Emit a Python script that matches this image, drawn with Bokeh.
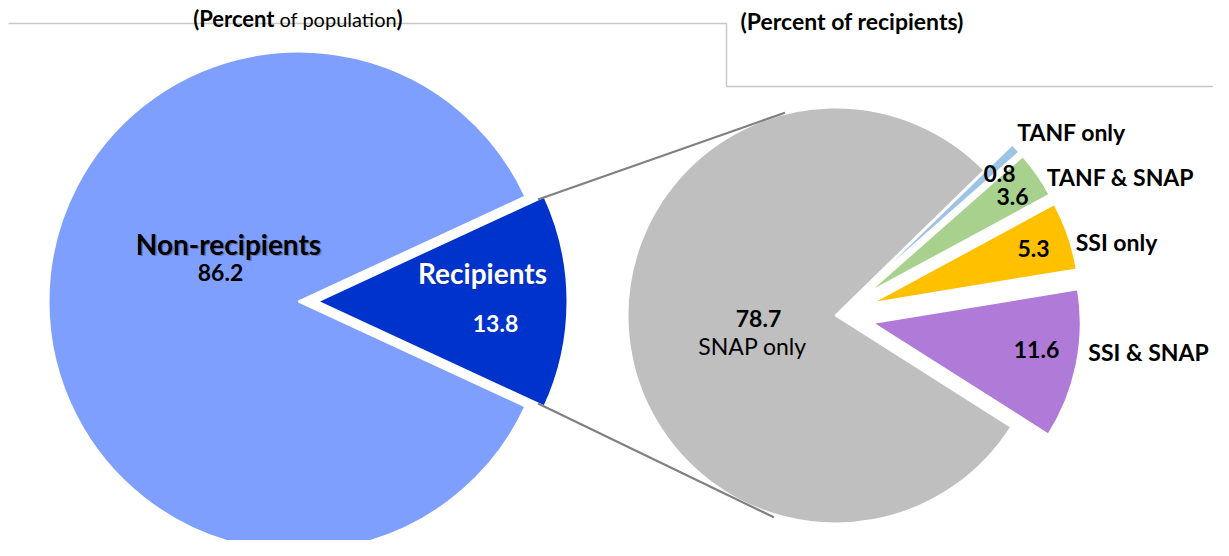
import math
from bokeh.plotting import figure
from bokeh.models import Range1d, ColumnDataSource
from bokeh.core.properties import value
from bokeh.embed import file_html
from bokeh.resources import INLINE

# ---------------- data ----------------
left_labels = ["Non-recipients", "Recipients"]
left_values = [86.2, 13.8]
left_colors = ["#7F9FFF", "#0033CC"]

right_labels = ["SNAP only", "TANF only", "TANF & SNAP", "SSI only", "SSI & SNAP"]
right_values = [78.7, 0.8, 3.6, 5.3, 11.6]
right_colors = ["#BFBFBF", "#9DC3E6", "#A9D18E", "#FFC000", "#B07AD8"]

left_title = ["(Percent", "of population", ")"]
right_title = "(Percent of recipients)"

FONT = "Lato"
W, H = 1213, 540

def Y(py):
    return 556 - py

p = figure(width=W, height=H, output_backend="svg", toolbar_location=None,
           x_axis_type=None, y_axis_type=None, min_border=0,
           x_range=Range1d(0, W), y_range=Range1d(556 - H, 556))
p.outline_line_color = None
p.grid.visible = False
p.background_fill_color = "white"
p.border_fill_color = "white"

# ---------------- left pie ----------------
lcx, lcy, lr = 298, Y(301), 250
rec_frac = left_values[1] / sum(left_values)
half = rec_frac * math.pi
l_explode = [0, 19]
l_start = [half, -half]
l_end = [2 * math.pi - half, half]
l_x = [lcx + l_explode[i] for i in range(2)]
p.wedge(x=l_x, y=[lcy, lcy], radius=lr, start_angle=l_start, end_angle=l_end,
        fill_color=left_colors, line_color="white", line_width=2)

# ---------------- right pie ----------------
rcx, rcy, rr = 835, Y(315), 208
first_angle = -32.4  # degrees, slices drawn clockwise from here
total = sum(right_values)
r_explode = [0, 38, 38, 38, 38]
cum = 0.0
ws = dict(x=[], y=[], s=[], e=[], c=[])
for i, v in enumerate(right_values):
    end = math.radians(first_angle - cum / total * 360)
    start = math.radians(first_angle - (cum + v) / total * 360)
    mid = (start + end) / 2
    ws["x"].append(rcx + r_explode[i] * math.cos(mid))
    ws["y"].append(rcy + r_explode[i] * math.sin(mid))
    ws["s"].append(start)
    ws["e"].append(end)
    ws["c"].append(right_colors[i])
    cum += v
p.wedge(x="x", y="y", radius=rr, start_angle="s", end_angle="e",
        fill_color="c", line_color="white", line_width=2,
        source=ColumnDataSource(ws))

# ---------------- connector lines ----------------
rec_tip_x = lcx + l_explode[1]
cr = 243
a_top, a_bot = math.radians(104), math.radians(-107)
p.segment(x0=[rec_tip_x + cr * math.cos(half), rec_tip_x + cr * math.cos(-half)],
          y0=[lcy + cr * math.sin(half), lcy + cr * math.sin(-half)],
          x1=[rcx + 209 * math.cos(a_top), rcx + 211 * math.cos(a_bot)],
          y1=[rcy + 209 * math.sin(a_top), rcy + 211 * math.sin(a_bot)],
          line_color="#808080", line_width=2.2)

# ---------------- header borders ----------------
p.line(x=[8, 726, 726, 1229], y=[Y(23), Y(23), Y(86), Y(86)],
       line_color="#C8C8C8", line_width=1.5)

# ---------------- titles ----------------
def txt(x, y, t, size, bold=True, color="black", align="center", alpha=1.0):
    p.text(x=[x], y=[Y(y)], text=[t], text_font=value(FONT),
           text_font_size=size, text_font_style="bold" if bold else "normal",
           text_align=align, text_baseline="middle", text_color=color,
           text_alpha=alpha)

txt(274, 18, left_title[0], "22px", align="right")
txt(279, 18, left_title[1], "20px", bold=False, align="left")
txt(396, 18, left_title[2], "22px", align="left")
txt(740, 20, right_title, "23px", align="left")

# left labels
txt(229.5, 244.5, left_labels[0], "28px", color="#404040", alpha=0.45)
txt(228, 243, left_labels[0], "28px")
txt(220, 272, f"{left_values[0]:.1f}", "23px")
txt(483, 273, left_labels[1], "28px", color="#202020", alpha=0.3)
txt(482, 272, left_labels[1], "28px", color="white")
txt(495, 323, f"{left_values[1]:.1f}", "23px", color="white")

# right labels
txt(758, 318, f"{right_values[0]:.1f}", "23px")
txt(752, 345, right_labels[0], "23px", bold=False)
txt(1071, 131, right_labels[1], "23px")
txt(999, 173, f"{right_values[1]:.1f}", "23px")
txt(1120, 176, right_labels[2], "23px")
txt(1012, 196, f"{right_values[2]:.1f}", "23px")
txt(1116, 241, right_labels[3], "23px")
txt(1033, 248, f"{right_values[3]:.1f}", "23px")
txt(1148, 351, right_labels[4], "23px")
txt(1036, 349, f"{right_values[4]:.1f}", "23px")

open("out.html", "w").write(file_html(p, INLINE))
